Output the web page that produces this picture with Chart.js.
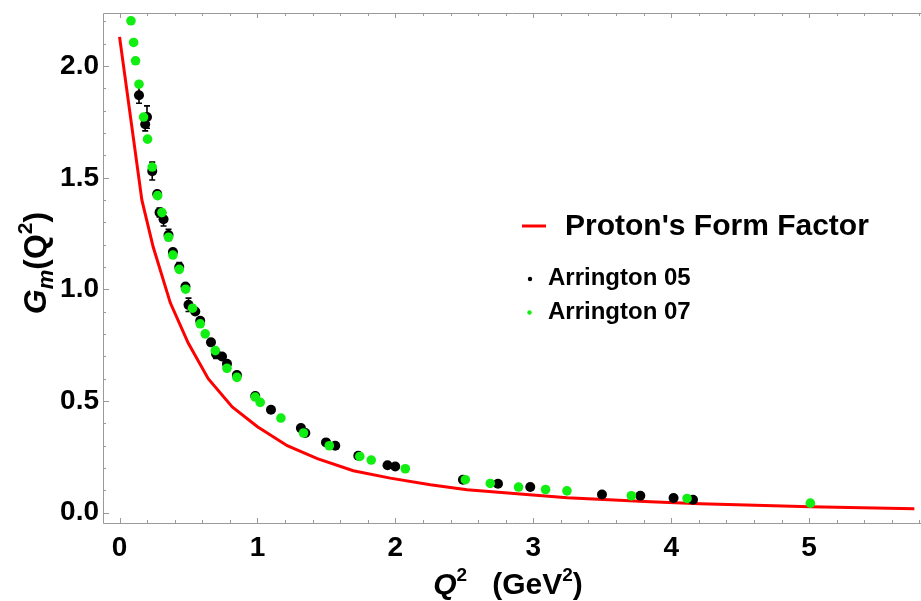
<!DOCTYPE html>
<html lang="en">
<head>
  <meta charset="UTF-8" />
  <title>Proton magnetic form factor</title>
  <script src="https://cdn.jsdelivr.net/npm/chart.js"></script>
  <style>
    body { margin: 0; background: #fff; }
    #wrap { width: 921px; height: 601px; }
  </style>
</head>
<body>
  <div id="wrap"><canvas id="chartCanvas"></canvas></div>

  <script>
    // Arrington 05 (black, with error bars)
    const a05Q = [0.141, 0.199, 0.186, 0.237, 0.273, 0.290, 0.319, 0.355, 0.387, 0.433, 0.478, 0.500, 0.549, 0.585,
                  0.663, 0.700, 0.743, 0.779, 0.851, 0.984, 1.098, 1.315, 1.347, 1.497, 1.564, 1.731, 1.943, 1.999,
                  2.490, 2.744, 2.978, 3.498, 3.776, 4.017, 4.158];
    const a05G = [1.870, 1.772, 1.740, 1.530, 1.427, 1.345, 1.314, 1.244, 1.168, 1.100, 1.013, 0.931, 0.901, 0.860,
                  0.763, 0.711, 0.700, 0.667, 0.617, 0.523, 0.461, 0.379, 0.357, 0.315, 0.300, 0.255, 0.213, 0.207,
                  0.148, 0.130, 0.115, 0.082, 0.076, 0.066, 0.058];
    const a05Err = [0.036, 0.050, 0.030, 0.040, 0.015, 0.020, 0.030, 0.025, 0.010, 0.020, 0.010, 0.030, 0.010, 0.010,
                    0.010, 0.020, 0.010, 0.010, 0.010, 0.005, 0.004, 0.004, 0.004, 0.003, 0.003, 0.003, 0.003, 0.003,
                    0.002, 0.002, 0.002, 0.002, 0.002, 0.002, 0.002];

    // Arrington 07 (green)
    const a07Q = [0.083, 0.102, 0.116, 0.141, 0.174, 0.203, 0.237, 0.276, 0.307, 0.355, 0.387, 0.433, 0.479, 0.529,
                  0.585, 0.621, 0.694, 0.779, 0.851, 0.984, 1.020, 1.170, 1.334, 1.521, 1.742, 1.825, 2.072, 2.507,
                  2.688, 2.893, 3.089, 3.244, 3.711, 4.115, 5.009];
    const a07G = [2.203, 2.106, 2.024, 1.919, 1.772, 1.673, 1.548, 1.420, 1.344, 1.234, 1.154, 1.090, 1.001, 0.916,
                  0.846, 0.801, 0.726, 0.647, 0.606, 0.518, 0.494, 0.424, 0.357, 0.300, 0.252, 0.236, 0.197, 0.148,
                  0.131, 0.115, 0.104, 0.098, 0.076, 0.064, 0.043];

    // proton form factor curve
    const fitQ = [0, 0.162, 0.244, 0.368, 0.498, 0.643, 0.817, 1.0, 1.216, 1.434, 1.695, 1.963, 2.253, 2.52,
                  3.246, 3.848, 4.21, 5.009, 5.763];
    const fitG = [2.131, 1.40, 1.19, 0.94, 0.76, 0.60, 0.474, 0.385, 0.300, 0.242, 0.188, 0.155, 0.125, 0.103,
                  0.067, 0.049, 0.040, 0.027, 0.018];

    const xTicks = [0, 1, 2, 3, 4, 5];
    const yTicks = [0.0, 0.5, 1.0, 1.5, 2.0];

    const toPts = (xs, ys) => xs.map((x, i) => ({ x: x, y: ys[i] }));
    const tickFont = { family: 'Liberation Sans', weight: 'bold', size: 28 };
    const frameColor = '#9a9a9a';

    function drawPieces(ctx, pieces, cx, baseY) {
      let total = 0;
      pieces.forEach(p => { ctx.font = p.font; total += ctx.measureText(p.t).width; });
      let x = cx - total / 2;
      pieces.forEach(p => {
        ctx.font = p.font;
        ctx.fillText(p.t, x, baseY + (p.dy || 0));
        x += ctx.measureText(p.t).width;
      });
    }

    const framePlugin = {
      id: 'frame',
      beforeDatasetsDraw(chart) {
        const ctx = chart.ctx;
        const a = chart.chartArea;
        const xs = chart.scales.x, ys = chart.scales.y;
        ctx.save();
        ctx.strokeStyle = frameColor;
        ctx.lineWidth = 1;
        ctx.beginPath();
        ctx.moveTo(a.left + 0.5, a.top + 0.5);
        ctx.lineTo(a.left + 0.5, a.bottom + 0.5);
        ctx.lineTo(921, a.bottom + 0.5);
        ctx.moveTo(a.left + 0.5, a.top + 0.5);
        ctx.lineTo(921, a.top + 0.5);
        // x ticks, every 0.2, on bottom and top
        for (let i = 0; i <= 29; i++) {
          const v = i * 0.2;
          const px = Math.round(xs.getPixelForValue(v)) + 0.5;
          const len = (i % 5 === 0) ? 5 : 3;
          ctx.moveTo(px, a.bottom);
          ctx.lineTo(px, a.bottom - len);
          ctx.moveTo(px, a.top);
          ctx.lineTo(px, a.top + len);
        }
        // y ticks, every 0.1
        for (let i = 0; i <= 22; i++) {
          const v = i * 0.1;
          const py = Math.round(ys.getPixelForValue(v)) + 0.5;
          const len = (i % 5 === 0) ? 6 : 3;
          ctx.moveTo(a.left, py);
          ctx.lineTo(a.left + len, py);
        }
        ctx.stroke();
        ctx.restore();
      },
      afterDatasetDraw(chart, args) {
        if (args.index !== 1) return;
        const ctx = chart.ctx;
        const xs = chart.scales.x, ys = chart.scales.y;
        ctx.save();
        ctx.strokeStyle = '#000';
        ctx.lineWidth = 1.6;
        ctx.beginPath();
        a05Q.forEach((q, i) => {
          const e = a05Err[i];
          const px = xs.getPixelForValue(q);
          const y1 = ys.getPixelForValue(a05G[i] + e);
          const y2 = ys.getPixelForValue(a05G[i] - e);
          if (y2 - y1 < 8) return;
          ctx.moveTo(px, y1); ctx.lineTo(px, y2);
          ctx.moveTo(px - 3, y1); ctx.lineTo(px + 3, y1);
          ctx.moveTo(px - 3, y2); ctx.lineTo(px + 3, y2);
        });
        ctx.stroke();
        ctx.restore();
      },
      afterDraw(chart) {
        const ctx = chart.ctx;
        ctx.save();
        ctx.fillStyle = '#000';
        const F = 'Liberation Sans';

        // legend
        ctx.strokeStyle = '#ff0000';
        ctx.lineWidth = 3;
        ctx.beginPath();
        ctx.moveTo(522, 226); ctx.lineTo(546, 226);
        ctx.stroke();
        ctx.textBaseline = 'middle';
        ctx.font = 'bold 30px ' + F;
        ctx.fillText("Proton's Form Factor", 565, 227);
        ctx.font = 'bold 24px ' + F;
        ctx.fillText('Arrington 05', 548, 278);
        ctx.fillText('Arrington 07', 548, 312);
        ctx.beginPath(); ctx.arc(530, 279, 2.2, 0, Math.PI * 2); ctx.fillStyle = '#000'; ctx.fill();
        ctx.beginPath(); ctx.arc(529.5, 312.5, 2.2, 0, Math.PI * 2); ctx.fillStyle = '#11ee11'; ctx.fill();
        ctx.fillStyle = '#000';
        ctx.textBaseline = 'alphabetic';

        // x axis title
        drawPieces(ctx, [
          { t: 'Q', font: 'italic bold 30px ' + F },
          { t: '2', font: 'bold 19px ' + F, dy: -13 },
          { t: '   (GeV', font: 'bold 30px ' + F },
          { t: '2', font: 'bold 19px ' + F, dy: -13 },
          { t: ')', font: 'bold 30px ' + F }
        ], 508, 594);

        // y axis title
        ctx.translate(46, 263);
        ctx.rotate(-Math.PI / 2);
        drawPieces(ctx, [
          { t: 'G', font: 'italic bold 32px ' + F },
          { t: 'm', font: 'italic bold 22px ' + F, dy: 7 },
          { t: '(Q', font: 'bold 32px ' + F },
          { t: '2', font: 'bold 21px ' + F, dy: -14 },
          { t: ')', font: 'bold 32px ' + F }
        ], 0, 0);
        ctx.restore();
      }
    };

    const config = {
      type: 'scatter',
      data: {
        datasets: [
          {
            label: 'Arrington 07',
            data: toPts(a07Q, a07G),
            backgroundColor: '#11ee11',
            borderWidth: 0,
            pointRadius: 4.8,
            order: 0
          },
          {
            label: 'Arrington 05',
            data: toPts(a05Q, a05G),
            backgroundColor: '#000',
            borderWidth: 0,
            pointRadius: 5,
            order: 1
          },
          {
            label: "Proton's Form Factor",
            data: toPts(fitQ, fitG),
            showLine: true,
            borderColor: '#ff0000',
            borderWidth: 3,
            pointRadius: 0,
            tension: 0,
            order: 2
          }
        ]
      },
      options: {
        responsive: true,
        maintainAspectRatio: false,
        animation: false,
        layout: { padding: { top: 13, right: 0, left: 0, bottom: 0 } },
        plugins: {
          legend: { display: false },
          tooltip: { enabled: false }
        },
        scales: {
          x: {
            type: 'linear',
            min: -0.12,
            max: 5.775,
            grid: { display: false, drawTicks: false },
            border: { display: false },
            afterBuildTicks: s => { s.ticks = xTicks.map(v => ({ value: v })); },
            afterFit: s => { s.height = 78; s.paddingLeft = 0; s.paddingRight = 0; },
            ticks: {
              font: tickFont,
              color: '#000',
              padding: 8,
              maxRotation: 0,
              callback: v => String(v)
            }
          },
          y: {
            type: 'linear',
            min: -0.046,
            max: 2.238,
            grid: { display: false, drawTicks: false },
            border: { display: false },
            afterBuildTicks: s => { s.ticks = yTicks.map(v => ({ value: v })); },
            afterFit: s => { s.width = 103; s.paddingTop = 0; s.paddingBottom = 0; },
            ticks: {
              font: tickFont,
              color: '#000',
              padding: 4,
              callback: v => Number(v).toFixed(1)
            }
          }
        }
      },
      plugins: [framePlugin]
    };

    new Chart(document.getElementById('chartCanvas').getContext('2d'), config);
  </script>
</body>
</html>
